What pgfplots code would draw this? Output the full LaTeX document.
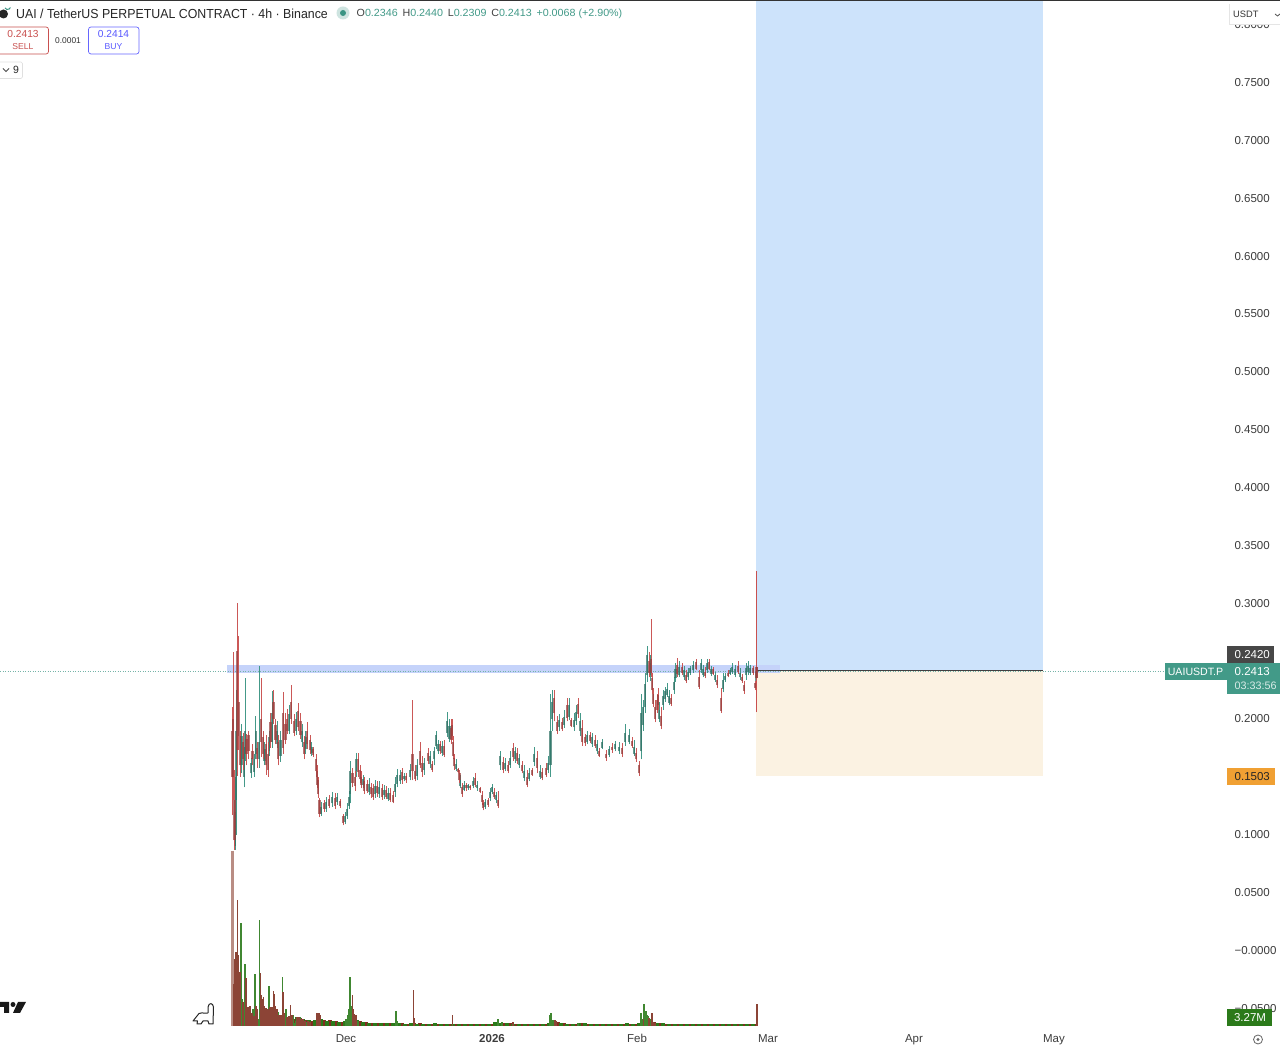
\documentclass[border=0pt]{standalone}
\usepackage{fontspec}
\setmainfont{Liberation Sans}
\usepackage{pgfplots}
\usepackage{pgfplotstable}
\pgfplotsset{compat=1.18}
\definecolor{upc}{HTML}{3A9483}
\definecolor{dnc}{HTML}{C9504F}
\definecolor{volg}{HTML}{2B7A1A}
\definecolor{volr}{HTML}{7F2F20}
\definecolor{zoneb}{HTML}{CDE3FB}
\definecolor{zoneo}{HTML}{FBF2E2}
\definecolor{band}{HTML}{C5D3FA}
\definecolor{lab}{HTML}{3C3C3C}
\definecolor{tealbox}{HTML}{429A88}
\definecolor{orangebox}{HTML}{F0A033}

% x (pixel position on the time scale), low, high, body low, body high
\pgfplotstableread{
x l h bl bh
232 .117 .210 .150 .190
233 .130 .258 .150 .200
234.5 .087 .156 .095 .130
237.3 .151 .300 .173 .259
238.6 .173 .272 .185 .215
240 .150 .190 .160 .185
243 .156 .188 .165 .180
246.5 .160 .187 .170 .183
248.5 .165 .190 .172 .186
252.5 .160 .178 .165 .172
257 .158 .180 .165 .175
261 .167 .235 .180 .200
263 .165 .190 .170 .184
266 .152 .186 .160 .178
268 .150 .180 .156 .170
270.5 .175 .205 .180 .197
273.5 .196 .225 .200 .215
275.5 .178 .200 .182 .195
278 .160 .186 .165 .180
283 .170 .223 .175 .205
285.5 .178 .205 .182 .196
287 .187 .209 .190 .200
291 .196 .229 .200 .215
294 .185 .204 .188 .198
298 .190 .214 .193 .207
300.5 .183 .205 .186 .198
304 .165 .185 .170 .180
307 .174 .197 .178 .190
310 .170 .186 .173 .182
313 .167 .176 .169 .174
316 .150 .170 .155 .165
317 .140 .160 .143 .155
318 .132 .150 .135 .147
319.5 .115 .132 .118 .130
324 .120 .130 .122 .127
329 .123 .134 .125 .131
335 .122 .136 .125 .132
340 .123 .131 .125 .129
343 .108 .118 .110 .116
352.5 .141 .158 .145 .153
355 .138 .155 .142 .150
358 .150 .171 .154 .165
360 .145 .160 .148 .156
361 .140 .155 .143 .150
364 .135 .150 .138 .146
367 .136 .147 .138 .144
371 .132 .145 .135 .141
373 .130 .144 .133 .140
377 .133 .146 .136 .142
382 .130 .144 .133 .140
386 .131 .142 .133 .139
390 .128 .140 .130 .136
393 .127 .138 .128 .134
402 .144 .158 .147 .154
406 .145 .153 .147 .151
412.4 .147 .216 .155 .170
415 .146 .160 .148 .155
420 .158 .180 .160 .172
422 .150 .168 .154 .162
428 .161 .175 .164 .171
432 .154 .164 .156 .161
440 .170 .181 .172 .178
444 .167 .182 .169 .177
451 .178 .200 .182 .192
452 .182 .200 .185 .195
453 .165 .185 .168 .180
454 .156 .170 .159 .166
458 .153 .158 .154 .157
459.5 .145 .156 .147 .153
462 .133 .145 .135 .141
466 .138 .145 .140 .143
470 .139 .143 .140 .142
475 .141 .153 .143 .149
480 .136 .141 .137 .140
482 .126 .138 .128 .134
483 .121 .130 .123 .127
488 .124 .132 .126 .130
494 .131 .140 .133 .137
498 .123 .138 .125 .130
503 .153 .167 .156 .163
508 .153 .164 .155 .160
513 .164 .179 .167 .175
517 .161 .175 .164 .171
522 .153 .164 .155 .160
527 .141 .156 .143 .150
532 .151 .158 .152 .156
537 .153 .172 .158 .166
542 .147 .158 .149 .154
546 .150 .162 .152 .158
554 .198 .225 .205 .218
557 .187 .203 .190 .197
562 .190 .201 .191 .197
567 .198 .218 .201 .212
571 .193 .201 .194 .199
578 .201 .218 .204 .213
582 .177 .199 .180 .192
585 .177 .187 .179 .184
590 .179 .189 .181 .186
595 .175 .186 .177 .182
599 .167 .175 .168 .172
606 .164 .173 .166 .170
612 .171 .179 .173 .176
622 .167 .179 .170 .175
632 .175 .184 .177 .181
636 .163 .175 .165 .171
639 .151 .164 .153 .160
649 .236 .258 .240 .250
651 .236 .286 .240 .252
652 .222 .240 .225 .235
653 .210 .227 .213 .222
655 .197 .216 .200 .210
657 .205 .222 .208 .216
658 .208 .227 .212 .221
661 .191 .210 .194 .203
671 .211 .222 .213 .218
677 .236 .253 .239 .247
682 .238 .248 .240 .245
686 .231 .242 .233 .238
696 .242 .252 .243 .249
699 .226 .242 .228 .236
705 .235 .245 .237 .241
709 .242 .252 .243 .249
713 .238 .245 .239 .243
717 .227 .238 .229 .234
721 .205 .227 .207 .218
728 .236 .242 .237 .240
738 .239 .250 .241 .246
742 .231 .239 .233 .236
744 .222 .233 .224 .229
753 .238 .246 .240 .244
755 .225 .233 .227 .231
756.5 .206 .328 .235 .245
756.9 .206 .328 .235 .245
}\dncandles

\pgfplotstableread{
x l h bl bh
235 .087 .150 .090 .120
236 .100 .225 .130 .190
241.5 .153 .196 .160 .185
244 .141 .176 .150 .170
245.3 .164 .235 .170 .190
251 .149 .166 .153 .162
254 .150 .170 .154 .165
255.8 .165 .203 .170 .190
259.3 .158 .246 .165 .180
264.5 .160 .180 .164 .174
269 .168 .190 .172 .184
272 .175 .224 .180 .205
277 .175 .198 .178 .190
280.5 .163 .190 .168 .182
289 .187 .212 .190 .204
296 .186 .206 .190 .200
302 .176 .196 .180 .190
305.5 .170 .190 .174 .184
311.5 .168 .180 .171 .176
321 .116 .128 .118 .124
326 .120 .133 .122 .128
332 .124 .137 .127 .133
337 .126 .136 .128 .133
345 .109 .120 .111 .116
347 .114 .127 .116 .122
349 .122 .138 .125 .133
350 .127 .164 .135 .155
356 .150 .171 .155 .165
363 .140 .152 .143 .148
369 .134 .149 .137 .144
375 .132 .147 .135 .142
379 .132 .146 .135 .141
384 .131 .143 .134 .139
388 .129 .140 .131 .136
395 .133 .150 .137 .144
397 .141 .157 .144 .152
400 .144 .156 .146 .152
404 .146 .153 .148 .151
410 .147 .161 .150 .156
417 .147 .165 .151 .160
424 .152 .166 .156 .162
430 .158 .172 .161 .168
434 .160 .176 .165 .172
436 .174 .190 .177 .186
438 .170 .182 .172 .178
442 .168 .181 .171 .177
447 .184 .206 .188 .198
449.5 .180 .200 .183 .194
456 .155 .165 .157 .161
460 .140 .152 .142 .147
464 .138 .146 .139 .143
468 .139 .144 .140 .143
473 .140 .150 .142 .146
477 .138 .146 .140 .143
485 .122 .131 .124 .128
490 .129 .140 .132 .137
492 .135 .144 .137 .141
496 .127 .137 .130 .134
500 .156 .172 .160 .168
505 .155 .166 .157 .162
510 .158 .172 .160 .166
515 .162 .176 .165 .172
519 .158 .170 .160 .166
524 .146 .160 .149 .155
529 .146 .158 .148 .153
534 .159 .176 .163 .170
540 .148 .160 .150 .155
548 .153 .168 .156 .162
550.5 .150 .222 .160 .190
552 .190 .225 .200 .215
559 .190 .204 .193 .199
564 .192 .208 .195 .202
569 .199 .218 .202 .212
574 .190 .205 .193 .199
576 .195 .212 .198 .206
580 .185 .205 .190 .198
587 .178 .190 .180 .186
592 .176 .188 .178 .184
597 .170 .182 .172 .178
602 .174 .183 .175 .180
609 .167 .177 .169 .174
615 .172 .181 .174 .178
619 .170 .180 .172 .176
625 .177 .196 .180 .188
629 .178 .191 .180 .186
634 .168 .182 .170 .176
641 .165 .222 .172 .205
643 .190 .216 .195 .210
645 .205 .240 .210 .230
647 .232 .263 .238 .255
650 .233 .255 .238 .248
659 .197 .215 .200 .208
663 .208 .225 .212 .220
665 .215 .228 .217 .224
667 .219 .231 .221 .226
669 .212 .225 .214 .220
674 .222 .236 .225 .232
675.5 .232 .248 .235 .243
679 .236 .250 .238 .245
684 .234 .246 .236 .242
688 .234 .244 .236 .241
690 .238 .246 .240 .244
693 .240 .250 .242 .247
701 .240 .252 .242 .248
703 .236 .247 .238 .243
707 .240 .252 .242 .248
711 .237 .246 .239 .243
715 .232 .241 .234 .238
723 .223 .240 .226 .234
725 .232 .240 .234 .237
730 .238 .244 .239 .242
732 .239 .248 .241 .245
735 .236 .247 .238 .243
740 .234 .244 .236 .240
746 .234 .248 .238 .244
748 .238 .250 .241 .246
750 .238 .247 .240 .244
756 .230 .252 .233 .241
}\upcandles

% volume in millions of units: tall, thin bars
\pgfplotstableread{
x v
233.4 6.2
234.4 10
236 11
237.3 18.8
238.3 10.5
239.3 8
240.3 8
243 3.5
246 7.2
247 2.8
248 2.5
249 2.8
250 3
252 2
254 1.5
256 3
257 2.5
260.3 7.9
261.3 4.6
262.3 4
263.3 4.3
264.3 3
266 2.7
268 2.6
270 2.8
272 2.8
273.3 5.2
274.3 4.8
275.3 3
277 2.5
279 1.7
281 1.6
283 5
284 2
287 1.4
289 1.5
290.7 3.1
292 1.6
297 1.4
299 1.4
301 1
303 1.1
305 .8
308 .7
310 .6
317 2.0
318 1.8
319 1.9
320 1.6
352.3 4.6
353.3 2.5
354.3 1.8
356 1.6
413.3 5.3
414.3 1.2
452.3 1.6
513 .6
555 .85
556.5 .7
643.6 1.0
649 1.2
652 2
653.5 .6
655 .5
757 3.3
}\volred

\pgfplotstableread{
x v
235.2 10
241 15.3
242 4
244 3.6
245 9.2
251 1.5
253 2.5
255 7.8
258 1
259.3 15.8
265 2.4
267 2.5
269 5.9
271 2.6
276 1.5
278 2.1
280 1.5
282.3 7.3
285 1.5
286 2.5
288 1.2
293 1.6
295 .4
296 .8
298 1.3
300 1.3
302 .9
304 .7
306 .6
346 1
347.5 1.6
349 2.5
350 7.3
351 3
358 .8
396 2.2
397 .8
498 1.1
502 .6
550 1.6
551 2
553 .9
578 .4
641 1.9
642.5 1.1
644 3.2
645 1.8
646 2.2
647 1.6
648 1.5
650 1.1
}\volgreen

% low baseline of the volume pane: wider bars
\pgfplotstableread{
x v
294 1.1
300 1.2
306 .9
312 .8
318 1.1
324 .9
330 .9
336 .7
342 .6
348 .7
354 1
360 .7
366 .6
372 .45
378 .4
384 .4
390 .4
396 .45
402 .4
408 .35
414 .4
420 .45
426 .35
432 .3
438 .3
444 .3
450 .3
456 .25
462 .25
468 .25
474 .3
480 .25
486 .25
492 .3
498 .4
504 .4
510 .4
516 .35
522 .35
528 .35
534 .35
540 .3
546 .3
552 .5
558 .6
564 .4
570 .35
576 .35
582 .45
588 .35
594 .3
600 .3
606 .25
612 .25
618 .25
624 .25
630 .3
636 .3
642 .6
648 .8
654 .6
660 .5
666 .35
672 .3
678 .25
684 .25
690 .25
696 .3
702 .25
708 .25
714 .25
720 .25
726 .25
732 .25
738 .25
744 .25
750 .25
754 .25
}\basered

\pgfplotstableread{
x v
297 1.3
303 1.1
309 .9
315 .9
321 1
327 .8
333 .8
339 .6
345 .7
351 1.2
357 .9
363 .6
369 .5
375 .45
381 .4
387 .4
393 .4
399 .45
405 .35
411 .4
417 .35
423 .35
429 .35
435 .4
441 .35
447 .3
453 .25
459 .25
465 .25
471 .25
477 .3
483 .3
489 .3
495 .6
501 .5
507 .45
513 .35
519 .35
525 .35
531 .35
537 .35
543 .35
549 .5
555 .8
561 .5
567 .35
573 .35
579 .45
585 .4
591 .3
597 .3
603 .3
609 .25
615 .25
621 .25
627 .4
633 .3
639 .5
645 1.2
651 .7
657 .5
663 .4
669 .3
675 .3
681 .25
687 .25
693 .3
699 .3
705 .25
711 .25
717 .25
723 .25
729 .25
735 .25
741 .25
747 .25
753 .25
}\basegreen

% the tallest, first volume bar
\pgfplotstableread{
x v
232.6 26
}\volfirst

\newcommand\candles[2]{%
\addplot[draw=none,mark=none,forget plot,
  error bars/.cd,y dir=plus,y explicit,error mark=none,
  error bar style={draw=#2,line width=1pt,opacity=.95}]
  table[x=x,y=l,y error expr=\thisrow{h}-\thisrow{l}] {#1};
\addplot[draw=none,mark=none,forget plot,
  error bars/.cd,y dir=plus,y explicit,error mark=none,
  error bar style={draw=#2!75!black,line width=2.2pt,opacity=.7}]
  table[x=x,y=bl,y error expr=\thisrow{bh}-\thisrow{bl}] {#1};
}

\begin{document}
\begin{tikzpicture}[x=1pt,y=1pt]
\path[use as bounding box] (0,-22) rectangle (1280,1026);
\fill[white] (0,-22) rectangle (1280,1026);
\begin{axis}[
  at={(0,0)},anchor=south west,
  scale only axis,width=1228pt,height=1026pt,
  xmin=0,xmax=1228,ymin=-0.0653,ymax=0.8213,
  axis line style={draw=none},
  tick style={draw=none},
  yticklabel pos=right,
  ytick={-0.05,0,0.05,0.1,0.2,0.3,0.35,0.4,0.45,0.5,0.55,0.6,0.65,0.7,0.75,0.8},
  yticklabels={−0.0500,−0.0000,0.0500,0.1000,0.2000,0.3000,0.3500,0.4000,0.4500,0.5000,0.5500,0.6000,0.6500,0.7000,0.7500,0.8000},
  xtick={346,492,637,768,914,1054},
  xticklabels={Dec,\textbf{2026},Feb,Mar,Apr,May},
  tick label style={font=\fontsize{11.5}{13}\selectfont,text=lab},
  every y tick label/.append style={anchor=west,xshift=3pt},
  every x tick label/.append style={yshift=-5pt},
  clip=true,
]
\addplot[fill=zoneb,draw=none,forget plot] coordinates {(756,.2420)(1043,.2420)(1043,.8213)(756,.8213)} --cycle;
\addplot[fill=zoneo,draw=none,forget plot] coordinates {(756,.2420)(1043,.2420)(1043,.1503)(756,.1503)} --cycle;
\addplot[fill=band,draw=none,forget plot] coordinates {(227,.2394)(780,.2394)(780,.2464)(227,.2464)} --cycle;
\addplot[draw=upc!70,dotted,line width=.5pt,forget plot] coordinates {(0,.2413)(1165,.2413)};
\addplot[draw=black!75,line width=.7pt,forget plot] coordinates {(756,.2420)(1043,.2420)};
\candles{\upcandles}{upc}
\candles{\dncandles}{dnc}
\end{axis}
\begin{axis}[
  at={(0,0)},anchor=south west,
  scale only axis,width=1228pt,height=1026pt,
  xmin=0,xmax=1228,ymin=0,ymax=152.5,
  hide axis,clip=true,
]
\addplot[ycomb,draw=volr!55!white,line width=3pt,forget plot] table[x=x,y=v] {\volfirst};
\addplot[ycomb,draw=volr,line width=3.2pt,forget plot] table[x=x,y=v] {\basered};
\addplot[ycomb,draw=volg,line width=3.2pt,forget plot] table[x=x,y=v] {\basegreen};
\addplot[ycomb,draw=volg!90!white,line width=1.2pt,forget plot] table[x=x,y=v] {\volgreen};
\addplot[ycomb,draw=volr!90!white,line width=1.2pt,forget plot] table[x=x,y=v] {\volred};
\end{axis}

% page furniture, in pixel positions counted from the top left
\begin{scope}[shift={(0,1026)},x=1pt,y=-1pt]
\fill[black!80] (0,0) rectangle (1280,1.2);
% header
\fill[black!85] (3.5,14) circle (4.5);
\draw[upc,line width=1pt] (5,8) arc[start angle=150,end angle=20,radius=3];
\node[anchor=west,inner sep=0,text=black!85,font=\fontsize{13.1}{15}\selectfont] at (16,13.5) {\scalebox{.943}[1]{UAI / TetherUS PERPETUAL CONTRACT · 4h · Binance}};
\fill[upc!25] (343,13) circle (6.5);
\fill[upc] (343,13) circle (3);
\node[anchor=west,inner sep=0,font=\fontsize{10.4}{12}\selectfont,text=tealbox] at (356.5,13.5) {\scalebox{1.03}[1]{\textcolor{black!75}{O}0.2346 \,\textcolor{black!75}{H}0.2440 \,\textcolor{black!75}{L}0.2309 \,\textcolor{black!75}{C}0.2413 \,+0.0068 (+2.90\%)}};
% sell and buy
\draw[draw=dnc,fill=white,rounded corners=2.5pt,line width=.7pt] (-3,27) rectangle (48.5,54);
\node[text=dnc,font=\fontsize{10.2}{12}\selectfont] at (23,34.5) {0.2413};
\node[text=dnc,font=\fontsize{8.6}{10}\selectfont] at (23,46.5) {SELL};
\node[text=black!80,font=\fontsize{8.4}{10}\selectfont] at (68,41) {0.0001};
\draw[draw=blue!60!white,fill=white,rounded corners=2.5pt,line width=.7pt] (88.5,27) rectangle (139,54);
\node[text=blue!65!white,font=\fontsize{10.2}{12}\selectfont] at (113.5,34.5) {0.2414};
\node[text=blue!65!white,font=\fontsize{8.6}{10}\selectfont] at (113.5,46.5) {BUY};
\draw[draw=black!12,fill=white,rounded corners=1.5pt,line width=.6pt] (-3,62) rectangle (22.5,78.5);
\draw[black!70,line width=.8pt] (3,68.5) -- (6,71.5) -- (9,68.5);
\node[text=black!85,font=\fontsize{10.5}{12}\selectfont] at (16,70) {9};
% USDT box
\fill[white] (1229,4) rectangle (1280,24.5);
\draw[black!10,line width=.5pt] (1280,24.5) -- (1229,24.5) -- (1229,4);
\node[anchor=west,inner sep=0,text=black!80,font=\fontsize{9.3}{11}\selectfont] at (1233,14) {USDT};
\draw[black!70,line width=.8pt] (1275,14) -- (1277.5,16) -- (1280,14);
% price labels
\fill[tealbox] (1164.5,663) rectangle (1227,680);
\node[text=white,font=\fontsize{10.6}{12}\selectfont] at (1195.5,671.5) {UAIUSDT.P};
\fill[black!72] (1227,646) rectangle (1274,663);
\node[anchor=west,inner sep=0,text=white,font=\fontsize{11.5}{13}\selectfont] at (1234.5,654.5) {0.2420};
\fill[tealbox] (1227,663) rectangle (1280,694);
\node[anchor=west,inner sep=0,text=white,font=\fontsize{11.5}{13}\selectfont] at (1234.5,671.5) {0.2413};
\node[anchor=west,inner sep=0,text=white!80!tealbox,font=\fontsize{10.8}{12}\selectfont] at (1234.5,685.5) {03:33:56};
\fill[orangebox] (1227,768) rectangle (1275,785.5);
\node[anchor=west,inner sep=0,text=black!85,font=\fontsize{11.5}{13}\selectfont] at (1234.5,777) {0.1503};
\fill[volg] (1227,1009) rectangle (1272,1026);
\node[text=white,font=\fontsize{11.5}{13}\selectfont] at (1250,1017.5) {3.27M};
% logo and icons
\fill[black!90] (0,1002) -- (9,1002) -- (9,1013) -- (4,1013) -- (4,1007) -- (0,1007) -- cycle;
\fill[black!90] (13,1004.5) circle (2.5);
\fill[black!90] (18,1002) -- (26,1002) -- (20,1013) -- (13,1013) -- cycle;
\draw[black!85,line width=1pt,line join=round] (193,1021) -- (199,1013.5) .. controls (203,1012) and (206,1014) .. (208,1013) -- (208,1007) .. controls (209,1002) and (213,1003) .. (213.5,1007) -- (213,1024) -- (209,1024) -- (208,1021) -- (203,1021) -- (201,1024) -- (197,1024) -- (197.5,1021) -- cycle;
\draw[black!60,line width=.8pt] (1258,1039.5) circle (4.5);
\fill[black!60] (1258,1039.5) circle (1.6);
\end{scope}
\end{tikzpicture}
\end{document}
